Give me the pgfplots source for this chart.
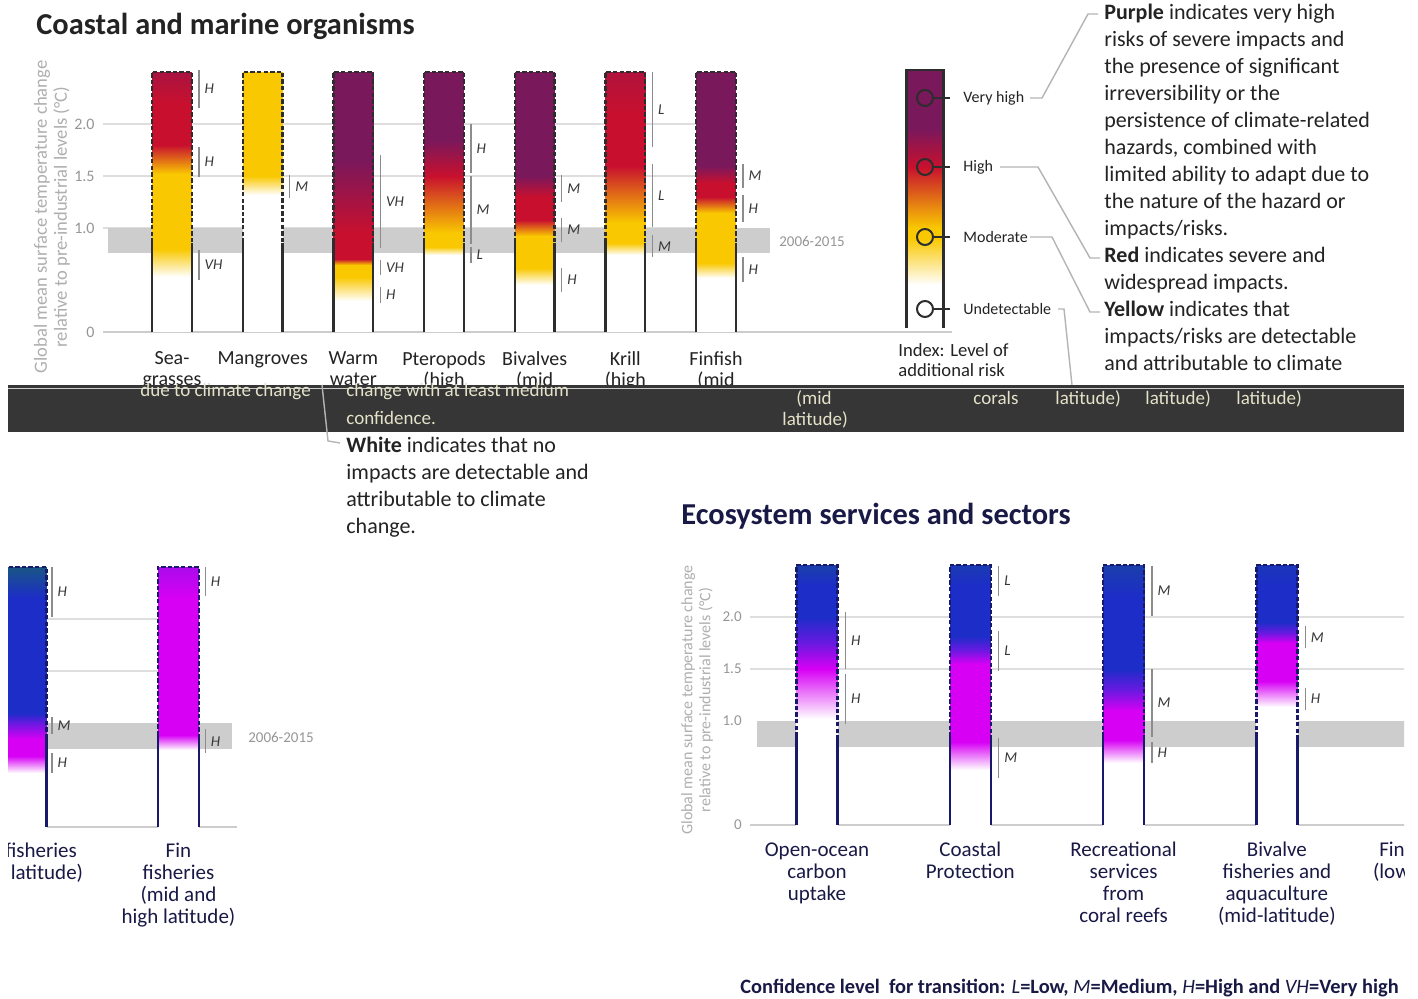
\documentclass[border=0pt]{standalone}
\usepackage{fontspec}
\setmainfont{Carlito}
\usepackage{pgfplots}
\pgfplotsset{compat=1.18}

\definecolor{ink}{RGB}{35,35,35}
\definecolor{navyink}{RGB}{25,25,70}
\definecolor{gridc}{RGB}{222,222,222}
\definecolor{basec}{RGB}{205,205,205}
\definecolor{bandc}{RGB}{205,205,205}
\definecolor{tickc}{RGB}{150,150,150}
\definecolor{labc}{RGB}{175,175,175}
\definecolor{confc}{RGB}{140,140,140}
\definecolor{confl}{RGB}{55,55,55}
\definecolor{warmframe}{RGB}{45,45,45}
\definecolor{coolframe}{RGB}{25,25,105}
\definecolor{leadc}{RGB}{180,180,180}
\definecolor{glitchc}{RGB}{54,54,54}
\definecolor{ghostc}{RGB}{228,226,200}

\newcommand{\fs}[2]{\fontsize{#1}{#2}\selectfont}

\pgfplotsset{
  panel/.style={scale only axis, clip=false, ymin=0, ymax=2.6,
    width=0pt, height=135.2pt,
    axis line style={draw=none}, tick style={draw=none}, major tick length=0pt,
    point meta min=0,
    xticklabel style={align=center, inner sep=0pt, anchor=north},
    yticklabel style={inner sep=0pt, anchor=east, xshift=-4pt, text=tickc, font=\fs{8}{9}},
  },
  ember/.style={surf, shader=interp, mesh/cols=2, point meta=explicit},
  conf/.style={confc, line width=0.7pt},
}

% confidence bracket: x, y from, y to, level
\newcommand{\confid}[4]{\addplot[conf] coordinates {(#1,#2) (#1,#3)}
  node[pos=0.5, anchor=west, inner sep=2.5pt, text=confl, font=\fs{7.5}{8}\itshape] {#4};}
% ember outline: left, right, start of dashes, top, colour
\newcommand{\emberframe}[5]{%
  \draw[#5, line width=1.2pt] (axis cs:#1,0) -- (axis cs:#1,#3) (axis cs:#2,#3) -- (axis cs:#2,0);
  \draw[#5, line width=1.2pt, dash pattern=on 2.2pt off 1.1pt] (axis cs:#1,#3) -- (axis cs:#1,#4) -- (axis cs:#2,#4) -- (axis cs:#2,#3);}
\newcommand{\tl}[3]{\node[anchor=base west, inner sep=0pt, font=\fs{11}{13}, text=ink] at (#1,#2) {#3};}
\newcommand{\gl}[3]{\node[anchor=base west, inner sep=0pt, font=\fs{9.5}{10}, text=ghostc] at (#1,#2) {#3};}

\begin{document}
\begin{tikzpicture}[x=0.5pt, y=-0.5pt]
\fill[white] (0,0) rectangle (1418,999);
\path[use as bounding box] (0,0) rectangle (1418,999);
\clip (8,0) rectangle (1404,999);

% ---------------- coastal and marine organisms ----------------
\begin{axis}[panel, at={(51.5pt,-166pt)}, anchor=south west, width=424.5pt,
  xmin=-0.761, xmax=8.603, point meta max=3,
  colormap={warm}{rgb255=(255,255,255) rgb255=(249,200,0) rgb255=(200,16,46) rgb255=(122,24,92)},
  xtick={0,...,6},
  xticklabels={{Sea-\\grasses},{Mangroves},{Warm\\water\\corals},{Pteropods\\(high\\latitude)},{Bivalves\\(mid\\latitude)},{Krill\\(high\\latitude)},{Finfish\\(mid\\latitude)}},
  xticklabel style={yshift=-9.5pt, font=\fs{10}{10.5}, text=ink},
  ytick={0,1,1.5,2}, yticklabels={0,1.0,1.5,2.0},
]
\draw[gridc, line width=1pt] (axis cs:-0.761,2) -- (axis cs:6,2) (axis cs:-0.761,1.5) -- (axis cs:6,1.5) (axis cs:-0.761,1) -- (axis cs:6,1);
\fill[bandc] (axis cs:-0.706,0.76) rectangle (axis cs:6.595,1.0);
\draw[basec, line width=1.2pt] (axis cs:-0.761,0) -- (axis cs:8.603,0);

\addplot[ember] coordinates {
 (-0.22,0)[0] (0.22,0)[0]
 (-0.22,0.53)[0] (0.22,0.53)[0]
 (-0.22,0.8)[1] (0.22,0.8)[1]
 (-0.22,1.52)[1] (0.22,1.52)[1]
 (-0.22,1.8)[2] (0.22,1.8)[2]
 (-0.22,2.2)[2] (0.22,2.2)[2]
 (-0.22,2.5)[2.4] (0.22,2.5)[2.4]
};
\addplot[ember] coordinates {
 (0.78,0)[0] (1.22,0)[0]
 (0.78,1.32)[0] (1.22,1.32)[0]
 (0.78,1.5)[1] (1.22,1.5)[1]
 (0.78,2.5)[1] (1.22,2.5)[1]
};
\addplot[ember] coordinates {
 (1.78,0)[0] (2.22,0)[0]
 (1.78,0.3)[0] (2.22,0.3)[0]
 (1.78,0.53)[1] (2.22,0.53)[1]
 (1.78,0.64)[1] (2.22,0.64)[1]
 (1.78,0.7)[2] (2.22,0.7)[2]
 (1.78,0.95)[2] (2.22,0.95)[2]
 (1.78,1.65)[3] (2.22,1.65)[3]
 (1.78,2.5)[3] (2.22,2.5)[3]
};
\addplot[ember] coordinates {
 (2.78,0)[0] (3.22,0)[0]
 (2.78,0.74)[0] (3.22,0.74)[0]
 (2.78,0.82)[1] (3.22,0.82)[1]
 (2.78,0.95)[1] (3.22,0.95)[1]
 (2.78,1.5)[2] (3.22,1.5)[2]
 (2.78,1.85)[3] (3.22,1.85)[3]
 (2.78,2.5)[3] (3.22,2.5)[3]
};
\addplot[ember] coordinates {
 (3.78,0)[0] (4.22,0)[0]
 (3.78,0.45)[0] (4.22,0.45)[0]
 (3.78,0.62)[1] (4.22,0.62)[1]
 (3.78,0.92)[1] (4.22,0.92)[1]
 (3.78,1.08)[2] (4.22,1.08)[2]
 (3.78,1.3)[2] (4.22,1.3)[2]
 (3.78,1.5)[3] (4.22,1.5)[3]
 (3.78,2.5)[3] (4.22,2.5)[3]
};
\addplot[ember] coordinates {
 (4.78,0)[0] (5.22,0)[0]
 (4.78,0.74)[0] (5.22,0.74)[0]
 (4.78,0.86)[1] (5.22,0.86)[1]
 (4.78,1.05)[1] (5.22,1.05)[1]
 (4.78,1.6)[2] (5.22,1.6)[2]
 (4.78,2.1)[2] (5.22,2.1)[2]
 (4.78,2.5)[2.3] (5.22,2.5)[2.3]
};
\addplot[ember] coordinates {
 (5.78,0)[0] (6.22,0)[0]
 (5.78,0.52)[0] (6.22,0.52)[0]
 (5.78,0.66)[1] (6.22,0.66)[1]
 (5.78,1.14)[1] (6.22,1.14)[1]
 (5.78,1.3)[2] (6.22,1.3)[2]
 (5.78,1.43)[2] (6.22,1.43)[2]
 (5.78,1.6)[3] (6.22,1.6)[3]
 (5.78,2.5)[3] (6.22,2.5)[3]
};
% index ember
\addplot[ember] coordinates {
 (8.101,0.04)[0] (8.509,0.04)[0]
 (8.101,0.45)[0] (8.509,0.45)[0]
 (8.101,0.9)[1] (8.509,0.9)[1]
 (8.101,1.0)[1] (8.509,1.0)[1]
 (8.101,1.59)[2] (8.509,1.59)[2]
 (8.101,1.95)[3] (8.509,1.95)[3]
 (8.101,2.52)[3] (8.509,2.52)[3]
};

\emberframe{-0.22}{0.22}{0.86}{2.5}{warmframe}
\emberframe{0.78}{1.22}{0.86}{2.5}{warmframe}
\emberframe{1.78}{2.22}{0.86}{2.5}{warmframe}
\emberframe{2.78}{3.22}{0.86}{2.5}{warmframe}
\emberframe{3.78}{4.22}{0.86}{2.5}{warmframe}
\emberframe{4.78}{5.22}{0.86}{2.5}{warmframe}
\emberframe{5.78}{6.22}{0.86}{2.5}{warmframe}
\draw[warmframe, line width=1.4pt] (axis cs:8.101,0.04) -- (axis cs:8.101,2.52) -- (axis cs:8.509,2.52) -- (axis cs:8.509,0.04);

\confid{0.298}{2.15}{2.52}{H}
\confid{0.298}{1.49}{1.78}{H}
\confid{0.298}{0.5}{0.79}{VH}
\confid{1.298}{1.29}{1.51}{M}
\confid{2.298}{0.81}{1.70}{VH}
\confid{2.298}{0.55}{0.69}{VH}
\confid{2.298}{0.28}{0.43}{H}
\confid{3.298}{1.53}{2.0}{H}
\confid{3.298}{0.85}{1.5}{M}
\confid{3.298}{0.66}{0.82}{L}
\confid{4.298}{1.25}{1.51}{M}
\confid{4.298}{0.87}{1.1}{M}
\confid{4.298}{0.38}{0.62}{H}
\confid{5.298}{1.78}{2.5}{L}
\confid{5.298}{1.01}{1.62}{L}
\confid{5.298}{0.72}{0.93}{M}
\confid{6.298}{1.38}{1.62}{M}
\confid{6.298}{1.06}{1.32}{H}
\confid{6.298}{0.48}{0.72}{H}
\end{axis}

% ---------------- lower left (fin fisheries) ----------------
\begin{axis}[panel, at={(-2.25pt,-413.5pt)}, anchor=south west, width=120.75pt,
  xmin=-0.2, xmax=1.384, point meta max=4,
  colormap={cool}{rgb255=(255,255,255) rgb255=(215,0,245) rgb255=(105,25,225) rgb255=(28,45,200) rgb255=(25,90,125)},
  xtick={0,1},
  xticklabels={{Fin fisheries\\(low latitude)},{Fin\\fisheries\\(mid and\\high latitude)}},
  xticklabel style={yshift=-8pt, font=\fs{10.5}{11}, text=navyink},
  ytick=\empty,
]
\draw[gridc, line width=1pt] (axis cs:0,2) -- (axis cs:1,2) (axis cs:0,1.5) -- (axis cs:1,1.5);
\fill[bandc] (axis cs:0,0.75) rectangle (axis cs:1.353,1.0);
\draw[basec, line width=1.2pt] (axis cs:-0.2,0) -- (axis cs:1.384,0);
\addplot[ember] coordinates {
 (-0.134,0)[0] (0.134,0)[0]
 (-0.134,0.52)[0] (0.134,0.52)[0]
 (-0.134,0.68)[1] (0.134,0.68)[1]
 (-0.134,0.85)[1] (0.134,0.85)[1]
 (-0.134,1.0)[2] (0.134,1.0)[2]
 (-0.134,1.1)[3] (0.134,1.1)[3]
 (-0.134,2.2)[3] (0.134,2.2)[3]
 (-0.134,2.5)[3.9] (0.134,2.5)[3.9]
};
\addplot[ember] coordinates {
 (0.866,0)[0] (1.134,0)[0]
 (0.866,0.74)[0] (1.134,0.74)[0]
 (0.866,0.88)[1] (1.134,0.88)[1]
 (0.866,2.2)[1] (1.134,2.2)[1]
 (0.866,2.5)[1.4] (1.134,2.5)[1.4]
};
\emberframe{-0.134}{0.134}{0.88}{2.5}{coolframe}
\emberframe{0.866}{1.134}{0.88}{2.5}{coolframe}
\confid{0.17}{2.02}{2.5}{H}
\confid{0.17}{0.89}{1.06}{M}
\confid{0.17}{0.52}{0.71}{H}
\confid{1.176}{2.22}{2.5}{H}
\confid{1.176}{0.71}{0.94}{H}
\end{axis}

% ---------------- ecosystem services and sectors ----------------
\begin{axis}[panel, at={(375pt,-412.5pt)}, anchor=south west, width=370.75pt,
  xmin=-0.437, xmax=4.4, point meta max=4,
  colormap={cool}{rgb255=(255,255,255) rgb255=(215,0,245) rgb255=(105,25,225) rgb255=(28,45,200) rgb255=(25,90,125)},
  xtick={0,...,4},
  xticklabels={{Open-ocean\\carbon\\uptake},{Coastal\\Protection},{Recreational\\services\\from\\coral reefs},{Bivalve\\fisheries and\\aquaculture\\(mid-latitude)},{Fin fisheries\\(low latitude)}},
  xticklabel style={yshift=-8.5pt, font=\fs{10.5}{11}, text=navyink},
  ytick={0,1,1.5,2}, yticklabels={0,1.0,1.5,2.0},
  yticklabel style={font=\fs{7.5}{8}},
]
\draw[gridc, line width=1pt] (axis cs:-0.437,2) -- (axis cs:4.4,2) (axis cs:-0.437,1.5) -- (axis cs:4.4,1.5);
\fill[bandc] (axis cs:-0.39,0.75) rectangle (axis cs:4.4,1.0);
\draw[basec, line width=1.2pt] (axis cs:-0.437,0) -- (axis cs:4.4,0);
\addplot[ember] coordinates {
 (-0.134,0)[0] (0.134,0)[0]
 (-0.134,1.02)[0] (0.134,1.02)[0]
 (-0.134,1.5)[1] (0.134,1.5)[1]
 (-0.134,1.75)[2] (0.134,1.75)[2]
 (-0.134,2.0)[3] (0.134,2.0)[3]
 (-0.134,2.3)[3] (0.134,2.3)[3]
 (-0.134,2.5)[3.4] (0.134,2.5)[3.4]
};
\addplot[ember] coordinates {
 (0.866,0)[0] (1.134,0)[0]
 (0.866,0.53)[0] (1.134,0.53)[0]
 (0.866,0.8)[1] (1.134,0.8)[1]
 (0.866,1.55)[1] (1.134,1.55)[1]
 (0.866,1.68)[2] (1.134,1.68)[2]
 (0.866,1.82)[3] (1.134,1.82)[3]
 (0.866,2.3)[3] (1.134,2.3)[3]
 (0.866,2.5)[3.3] (1.134,2.5)[3.3]
};
\addplot[ember] coordinates {
 (1.866,0)[0] (2.134,0)[0]
 (1.866,0.6)[0] (2.134,0.6)[0]
 (1.866,0.82)[1] (2.134,0.82)[1]
 (1.866,1.1)[1] (2.134,1.1)[1]
 (1.866,1.3)[2] (2.134,1.3)[2]
 (1.866,1.5)[3] (2.134,1.5)[3]
 (1.866,2.2)[3] (2.134,2.2)[3]
 (1.866,2.5)[3.4] (2.134,2.5)[3.4]
};
\addplot[ember] coordinates {
 (2.866,0)[0] (3.134,0)[0]
 (2.866,1.13)[0] (3.134,1.13)[0]
 (2.866,1.38)[1] (3.134,1.38)[1]
 (2.866,1.75)[1] (3.134,1.75)[1]
 (2.866,1.85)[2] (3.134,1.85)[2]
 (2.866,1.95)[3] (3.134,1.95)[3]
 (2.866,2.3)[3] (3.134,2.3)[3]
 (2.866,2.5)[3.2] (3.134,2.5)[3.2]
};
\emberframe{-0.134}{0.134}{0.85}{2.5}{coolframe}
\emberframe{0.866}{1.134}{0.85}{2.5}{coolframe}
\emberframe{1.866}{2.134}{0.85}{2.5}{coolframe}
\emberframe{2.866}{3.134}{0.85}{2.5}{coolframe}
\confid{0.185}{1.5}{2.05}{H}
\confid{0.185}{0.97}{1.45}{H}
\confid{1.185}{2.2}{2.49}{L}
\confid{1.185}{1.48}{1.87}{L}
\confid{1.185}{0.45}{0.84}{M}
\confid{2.185}{2.01}{2.49}{M}
\confid{2.185}{0.85}{1.5}{M}
\confid{2.185}{0.6}{0.8}{H}
\confid{3.185}{1.7}{1.91}{M}
\confid{3.185}{1.11}{1.32}{H}
\end{axis}

% ---------------- titles, axis titles, notes ----------------
\node[anchor=base west, inner sep=0pt, font=\bfseries\fs{15.2}{18}, text=ink] at (36,35) {Coastal and marine organisms};
\node[anchor=base west, inner sep=0pt, font=\bfseries\fs{15.2}{18}, text=navyink] at (681,524) {Ecosystem services and sectors};
\node[rotate=90, align=center, inner sep=0pt, font=\fs{9.3}{10}, text=labc] at (52,217) {Global mean surface temperature change\\relative to pre-industrial levels (°C)};
\node[rotate=90, align=center, inner sep=0pt, font=\fs{8}{9}, text=labc] at (697,700) {Global mean surface temperature change\\relative to pre-industrial levels (°C)};
\node[font=\fs{7.5}{8}, text=tickc] at (812,241) {2006-2015};
\node[font=\fs{7.5}{8}, text=tickc] at (281,737) {2006-2015};

% index: circles on the index ember, level names, leader lines
\foreach \yy in {98,167,237,309}{
  \draw[warmframe, line width=1pt] (925,\yy) circle[radius=4pt];
  \draw[warmframe, line width=1pt] (933,\yy) -- (950,\yy);
}
\foreach \yy/\lab in {98/Very high, 167/High, 237/Moderate, 309/Undetectable}
  \node[anchor=west, inner sep=0pt, font=\fs{8}{9}, text=ink] at (963,\yy) {\lab};
\node[anchor=base west, inner sep=0pt, font=\fs{9.3}{10}, text=ink] at (898,357) {Index: Level of};
\node[anchor=base west, inner sep=0pt, font=\fs{9.3}{10}, text=ink] at (898,377) {additional risk};
\draw[leadc, line width=0.7pt] (1030,98) -- (1042,98) -- (1088,14) -- (1098,14);
\draw[leadc, line width=0.7pt] (1000,167) -- (1038,167) -- (1090,258) -- (1100,258);
\draw[leadc, line width=0.7pt] (1030,237) -- (1052,237) -- (1090,312) -- (1100,312);
\draw[leadc, line width=0.7pt] (1058,309) -- (1064,309) -- (1072,385);

\tl{1104}{20}{\textbf{Purple} indicates very high}
\tl{1104}{47}{risks of severe impacts and}
\tl{1104}{74}{the presence of significant}
\tl{1104}{101}{irreversibility or the}
\tl{1104}{128}{persistence of climate-related}
\tl{1104}{155}{hazards, combined with}
\tl{1104}{182}{limited ability to adapt due to}
\tl{1104}{209}{the nature of the hazard or}
\tl{1104}{236}{impacts/risks.}
\tl{1104}{263}{\textbf{Red} indicates severe and}
\tl{1104}{290}{widespread impacts.}
\tl{1104}{317}{\textbf{Yellow} indicates that}
\tl{1104}{344}{impacts/risks are detectable}
\tl{1104}{371}{and attributable to climate}

% glitched strip
\fill[glitchc] (8,385) rectangle (1404,432);
\draw[white!75!glitchc, line width=0.5pt] (8,389) -- (1404,389);
\gl{140}{397}{due to climate change}
\gl{346}{397}{change with at least medium}
\gl{346}{425}{confidence.}
\gl{796}{405}{(mid}
\gl{782}{426}{latitude)}
\gl{973}{405}{corals}
\gl{1055}{405}{latitude)}
\gl{1145}{405}{latitude)}
\gl{1236}{405}{latitude)}
\draw[leadc, line width=0.7pt] (322,385) -- (328,441) -- (340,443);

\tl{346}{453}{\textbf{White} indicates that no}
\tl{346}{480}{impacts are detectable and}
\tl{346}{507}{attributable to climate}
\tl{346}{534}{change.}

\node[anchor=base west, inner sep=0pt, font=\bfseries\fs{10.2}{12}, text=navyink] at (740,993)
  {Confidence level\ \ for transition: \textit{\mdseries L}=Low, \textit{\mdseries M}=Medium, \textit{\mdseries H}=High and \textit{\mdseries VH}=Very high};
\end{tikzpicture}
\end{document}
